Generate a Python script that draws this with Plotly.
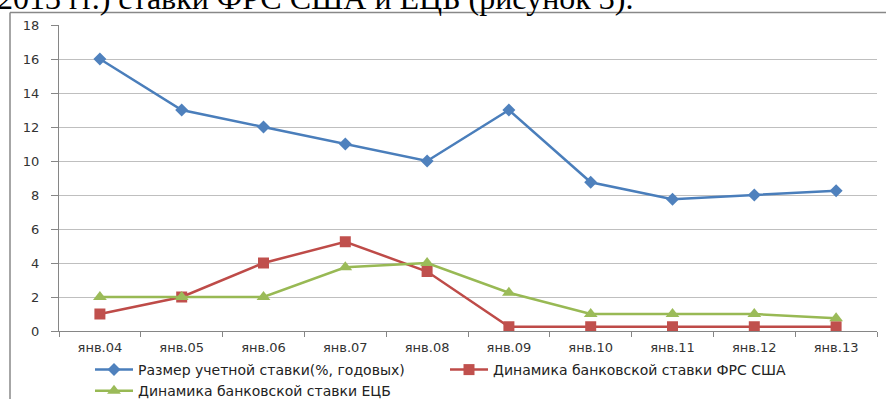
import plotly.graph_objects as go

categories = ["янв.04", "янв.05", "янв.06", "янв.07", "янв.08",
              "янв.09", "янв.10", "янв.11", "янв.12", "янв.13"]
discount_rate = [16, 13, 12, 11, 10, 13, 8.75, 7.75, 8, 8.25]
fed_rate = [1, 2, 4, 5.25, 3.5, 0.25, 0.25, 0.25, 0.25, 0.25]
ecb_rate = [2, 2, 2, 3.75, 4, 2.25, 1, 1, 1, 0.75]
y_ticks = [0, 2, 4, 6, 8, 10, 12, 14, 16, 18]

names = ["Размер учетной ставки(%, годовых)",
         "Динамика банковской ставки ФРС США",
         "Динамика банковской ставки ЕЦБ"]

W, H = 888, 399
ML, MR, MT, MB = 59, 11, 25, 68
PW, PH = W - ML - MR, H - MT - MB


def px_x(p):
    return (p - ML) / PW


def px_y(p):
    return (H - MB - p) / PH


fig = go.Figure()
fig.add_trace(go.Scatter(
    x=categories, y=discount_rate, name=names[0], mode="lines+markers",
    line=dict(color="#4A7EBB", width=2.5),
    marker=dict(symbol="diamond", size=10, color="#4F81BD")))
fig.add_trace(go.Scatter(
    x=categories, y=fed_rate, name=names[1], mode="lines+markers",
    line=dict(color="#BE4B48", width=2.5),
    marker=dict(symbol="square", size=11, color="#C0504D")))
fig.add_trace(go.Scatter(
    x=categories, y=ecb_rate, name=names[2], mode="lines+markers",
    line=dict(color="#98B954", width=2.5),
    marker=dict(symbol="triangle-up", size=12, color="#9BBB59")))

tick_font = dict(family="DejaVu Sans", size=13, color="#333333")

fig.update_layout(
    width=W, height=H,
    margin=dict(l=ML, r=MR, t=MT, b=MB, autoexpand=False),
    paper_bgcolor="white", plot_bgcolor="white",
    showlegend=True,
    legend=dict(orientation="h", x=px_x(90), xanchor="left",
                y=px_y(354), yanchor="top",
                font=dict(family="DejaVu Sans", size=14, color="#222222"),
                entrywidth=302, tracegroupgap=0, itemwidth=38,
                bgcolor="rgba(0,0,0,0)"),
    xaxis=dict(type="category", tickfont=tick_font, showgrid=False,
               showline=True, linecolor="#868686", linewidth=1,
               ticks="outside", tickson="boundaries", ticklen=5,
               tickcolor="#868686", range=[-0.5, len(categories) - 0.5],
               fixedrange=True, ticklabelstandoff=4),
    yaxis=dict(range=[0, 18], tickvals=y_ticks, tickfont=tick_font,
               showgrid=True, gridcolor="#BFBFBF", gridwidth=1,
               showline=True, linecolor="#868686", linewidth=1,
               ticks="outside", ticklen=7, tickcolor="#868686",
               zeroline=False, ticklabelstandoff=9),
    shapes=[
        dict(type="line", xref="paper", yref="paper",
             x0=px_x(10), x1=px_x(10), y0=px_y(12.5), y1=px_y(405),
             line=dict(color="#888888", width=1.5)),
        dict(type="line", xref="paper", yref="paper",
             x0=px_x(10), x1=px_x(886), y0=px_y(12.5), y1=px_y(12.5),
             line=dict(color="#888888", width=1.5)),
    ],
    annotations=[
        dict(text="2013 гг.) ставки ФРС США и ЕЦБ (рисунок 3).",
             xref="paper", yref="paper", x=px_x(-5), y=px_y(18),
             xanchor="left", yanchor="bottom", showarrow=False,
             font=dict(family="Liberation Serif", size=32, color="black")),
    ],
)

fig.write_html("out.html",
               config={"displayModeBar": False},
               post_script="document.body.style.margin='0';")
